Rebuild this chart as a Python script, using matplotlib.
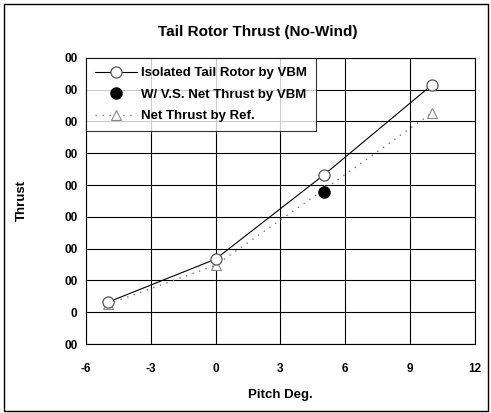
import matplotlib.pyplot as plt
from matplotlib.patches import Rectangle

plt.rcParams['font.family'] = ['Liberation Sans', 'DejaVu Sans']

# pitch angle (deg) and thrust
pitch = [-5, 0, 5, 10]
isolated = [31, 167, 431, 714]
ref_net = [25, 148, 385, 626]
vs_pitch = [5]
vs_net = [377]

yticks = [-100, 0, 100, 200, 300, 400, 500, 600, 700, 800]
ylabels = ["00", "0", "00", "00", "00", "00", "00", "00", "00", "00"]
xticks = [-6, -3, 0, 3, 6, 9, 12]

fig = plt.figure(figsize=(4.91, 4.13), dpi=100)
ax = fig.add_axes([0.175, 0.167, 0.792, 0.693])

ax.plot(pitch, isolated, color="black", lw=0.8, marker="o", ms=8,
        mfc="white", mec="#555555", mew=0.9, label="Isolated Tail Rotor by VBM", zorder=3)
ax.plot(vs_pitch, vs_net, ls="none", marker="o", ms=8, color="black",
        label="W/ V.S. Net Thrust by VBM", zorder=4)
ax.plot(pitch, ref_net, color="#777777", lw=1.0, ls=(0, (1, 4)), marker="^", ms=7,
        mfc="white", mec="#888888", mew=0.8, label="Net Thrust by Ref.", zorder=2)

ax.set_xlim(-6, 12)
ax.set_ylim(-100, 800)
ax.set_xticks(xticks)
ax.set_xticklabels([str(t) for t in xticks])
ax.set_yticks(yticks)
ax.set_yticklabels(ylabels)
ax.grid(True, color="black", lw=0.8)
ax.tick_params(axis="y", length=0, labelsize=8.5, pad=6)
ax.tick_params(axis="x", length=0, labelsize=8.5, pad=14)
for lab in ax.get_xticklabels() + ax.get_yticklabels():
    lab.set_fontweight("bold")
for s in ax.spines.values():
    s.set_linewidth(0.8)

ax.set_xlabel("Pitch Deg.", fontsize=9.5, fontweight="bold", labelpad=10)
ax.set_ylabel("Thrust", fontsize=9.5, fontweight="bold", labelpad=26)
fig.text(0.525, 0.922, "Tail Rotor Thrust (No-Wind)", ha="center", va="center",
         fontsize=11, fontweight="bold")

leg = ax.legend(loc="upper left", bbox_to_anchor=(0.0, 1.0), fontsize=9.5,
                frameon=True, fancybox=False, edgecolor="black", borderaxespad=0,
                handlelength=3.2, labelspacing=0.7, borderpad=0.7, handletextpad=0.3)
leg.get_frame().set_linewidth(0.8)
for t in leg.get_texts():
    t.set_fontweight("bold")

fig.patches.append(Rectangle((0.008, 0.005), 0.985, 0.985, transform=fig.transFigure,
                             fill=False, edgecolor="black", lw=1.0))

fig.savefig("out.png", dpi=100)
